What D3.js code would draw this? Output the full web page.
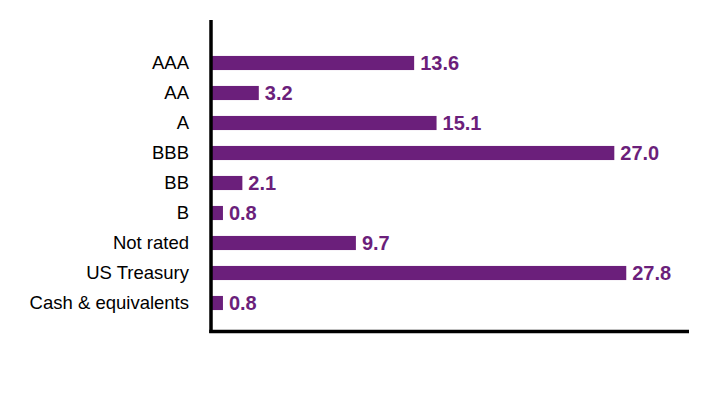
<!DOCTYPE html>
<html>
<head>
<meta charset="utf-8">
<script src="https://cdn.jsdelivr.net/npm/d3@7"></script>
<style>
  html, body { margin: 0; padding: 0; background: #fff; }
  svg { display: block; }
</style>
</head>
<body>
<svg id="chart" width="708" height="408"></svg>
<script>
const categories = ["AAA", "AA", "A", "BBB", "BB", "B", "Not rated", "US Treasury", "Cash & equivalents"];
const values = [13.6, 3.2, 15.1, 27.0, 2.1, 0.8, 9.7, 27.8, 0.8];
const xDomain = [0, 32];

const color = "#6b1f7b";
const svg = d3.select("#chart");

const x = d3.scaleLinear().domain(xDomain).range([211, 689]);
const y = d3.scaleBand().domain(categories).range([48, 318])
  .paddingInner(0.53).paddingOuter(0.265);

// bars
svg.append("g").selectAll("rect").data(categories).join("rect")
  .attr("x", x(0))
  .attr("y", d => y(d))
  .attr("width", (d, i) => x(values[i]) - x(0))
  .attr("height", y.bandwidth())
  .attr("fill", color);

// value labels
svg.append("g").selectAll("text").data(categories).join("text")
  .attr("x", (d, i) => x(values[i]) + 6)
  .attr("y", d => y(d) + y.bandwidth() / 2)
  .attr("dy", "0.36em")
  .attr("fill", color)
  .attr("font-family", "Liberation Sans, Arial, sans-serif")
  .attr("font-weight", "bold")
  .attr("font-size", "20px")
  .text((d, i) => values[i].toFixed(1));

// y axis
const yAxis = svg.append("g")
  .attr("transform", `translate(${x(0)},0)`)
  .call(d3.axisLeft(y).tickSize(0).tickPadding(22));
yAxis.select(".domain").remove();
yAxis.selectAll("text")
  .attr("font-family", "Liberation Sans, Arial, sans-serif")
  .attr("font-size", "18.5px")
  .attr("fill", "#000");

// axis lines
svg.append("line")
  .attr("x1", x(0)).attr("x2", x(0))
  .attr("y1", 20).attr("y2", 333)
  .attr("stroke", "#000").attr("stroke-width", 3.5);
svg.append("line")
  .attr("x1", x(0) - 1.75).attr("x2", x(xDomain[1]))
  .attr("y1", 331.5).attr("y2", 331.5)
  .attr("stroke", "#000").attr("stroke-width", 3.5);
</script>
</body>
</html>
